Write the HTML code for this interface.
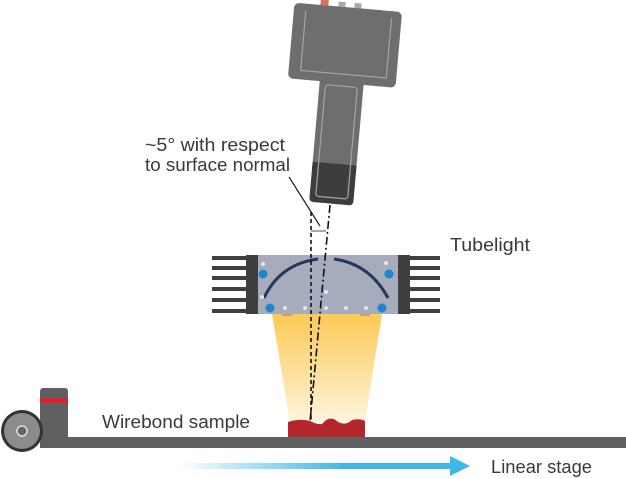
<!DOCTYPE html>
<html><head><style>body{margin:0;background:#fff}svg{display:block}text{font-family:"Liberation Sans",sans-serif;fill:#3a3a3a}</style></head><body>
<svg width="626" height="479" viewBox="0 0 626 479" xmlns="http://www.w3.org/2000/svg">
<defs>
<linearGradient id="cone" x1="0" y1="0" x2="0" y2="1"><stop offset="0" stop-color="#fcc954"/><stop offset="1" stop-color="#fff4dc"/></linearGradient>
<linearGradient id="arr" x1="0" y1="0" x2="1" y2="0"><stop offset="0" stop-color="#3db8e8" stop-opacity="0"/><stop offset="0.6" stop-color="#3db8e8"/><stop offset="1" stop-color="#3db8e8"/></linearGradient>
</defs>
<g transform="translate(340,102) rotate(5)">
<rect x="-28" y="-101" width="8" height="6" fill="#d9705f"/>
<rect x="-10" y="-100" width="7" height="5" fill="#a9a9ad"/>
<rect x="6" y="-100" width="7" height="5" fill="#a9a9ad"/>
<rect x="-54" y="-95" width="108" height="76" rx="5" fill="#6e6e70"/>
<path d="M-42 -88 V-28 H44 V-88" fill="none" stroke="#a5a5a7" stroke-width="1.2"/>
<rect x="-22" y="-22" width="44" height="124" rx="4" fill="#6e6e70"/>
<rect x="-22" y="62" width="44" height="40" rx="4" fill="#3d3d3f"/>
<rect x="-22" y="62" width="44" height="8" fill="#3d3d3f"/>
<rect x="-16" y="-16" width="32" height="112" rx="3" fill="none" stroke="#a5a5a7" stroke-width="1.2"/>
</g>
<polygon points="272,314 382,314 365,422 290,422" fill="url(#cone)"/>
<rect x="258" y="255" width="140" height="59" fill="#a7acbd"/>
<rect x="246" y="255" width="12" height="59" fill="#3f3f41"/>
<rect x="398" y="255" width="12" height="59" fill="#3f3f41"/>
<g fill="#3f3f41">
<rect x="212" y="256" width="34" height="4"/><rect x="212" y="266" width="34" height="4"/><rect x="212" y="276" width="34" height="4"/><rect x="212" y="287" width="34" height="4"/><rect x="212" y="298" width="34" height="4"/><rect x="212" y="309" width="34" height="4"/>
<rect x="410" y="256" width="30" height="4"/><rect x="410" y="266" width="30" height="4"/><rect x="410" y="276" width="30" height="4"/><rect x="410" y="287" width="30" height="4"/><rect x="410" y="298" width="30" height="4"/><rect x="410" y="309" width="30" height="4"/>
</g>
<path d="M264 298 Q280 264 318 259" fill="none" stroke="#27365f" stroke-width="3"/>
<path d="M334 259 Q370 264 388 298" fill="none" stroke="#27365f" stroke-width="3"/>
<g fill="#1e88cc"><circle cx="263" cy="274" r="4.5"/><circle cx="270" cy="308" r="4.5"/><circle cx="389" cy="274" r="4.5"/><circle cx="382" cy="308" r="4.5"/></g>
<g fill="#e4e6ee"><circle cx="263" cy="264" r="2"/><circle cx="262" cy="297" r="2"/><circle cx="285" cy="308" r="2"/><circle cx="305" cy="308" r="2"/><circle cx="326" cy="308" r="2"/><circle cx="346" cy="308" r="2"/><circle cx="366" cy="308" r="2"/><circle cx="386" cy="263" r="2"/><circle cx="326" cy="292" r="2"/></g>
<rect x="282" y="314" width="10" height="2" fill="#c9a070"/><rect x="360" y="314" width="10" height="2" fill="#c9a070"/>
<path d="M288 422 Q300 418 310 421 Q318 425 322 424 Q330 414 338 422 Q346 426 352 420 Q360 418 365 421 V438 H288 Z" fill="#b3262d"/>
<line x1="311" y1="212" x2="311" y2="422" stroke="#111" stroke-width="1.6" stroke-dasharray="4,3"/>
<line x1="330" y1="205" x2="310" y2="422" stroke="#111" stroke-width="1.6" stroke-dasharray="8,3,2,3"/>
<line x1="311" y1="231" x2="326" y2="231" stroke="#555" stroke-width="1"/>
<line x1="289" y1="177" x2="320" y2="226" stroke="#222" stroke-width="1.2"/>
<rect x="40" y="437" width="586" height="11" fill="#606062"/>
<rect x="40" y="388" width="28" height="52" rx="3" fill="#606062"/>
<rect x="40" y="398" width="28" height="5" fill="#e0202a"/>
<circle cx="22" cy="431" r="21" fill="#333"/>
<circle cx="22" cy="431" r="18" fill="#8c8c8e"/>
<circle cx="22" cy="431" r="5" fill="#666" stroke="#ddd" stroke-width="1.5"/>
<rect x="180" y="463" width="275" height="6" fill="url(#arr)"/>
<polygon points="450,456 470,466 450,476" fill="#3db8e8"/>
<text x="145" y="151" font-size="18" textLength="140" lengthAdjust="spacingAndGlyphs">~5° with respect</text>
<text x="145" y="171" font-size="18" textLength="145" lengthAdjust="spacingAndGlyphs">to surface normal</text>
<text x="450" y="251" font-size="18" textLength="80" lengthAdjust="spacingAndGlyphs">Tubelight</text>
<text x="102" y="428" font-size="18" textLength="148" lengthAdjust="spacingAndGlyphs">Wirebond sample</text>
<text x="491" y="473" font-size="18" textLength="101" lengthAdjust="spacingAndGlyphs">Linear stage</text>
</svg>
</body></html>
